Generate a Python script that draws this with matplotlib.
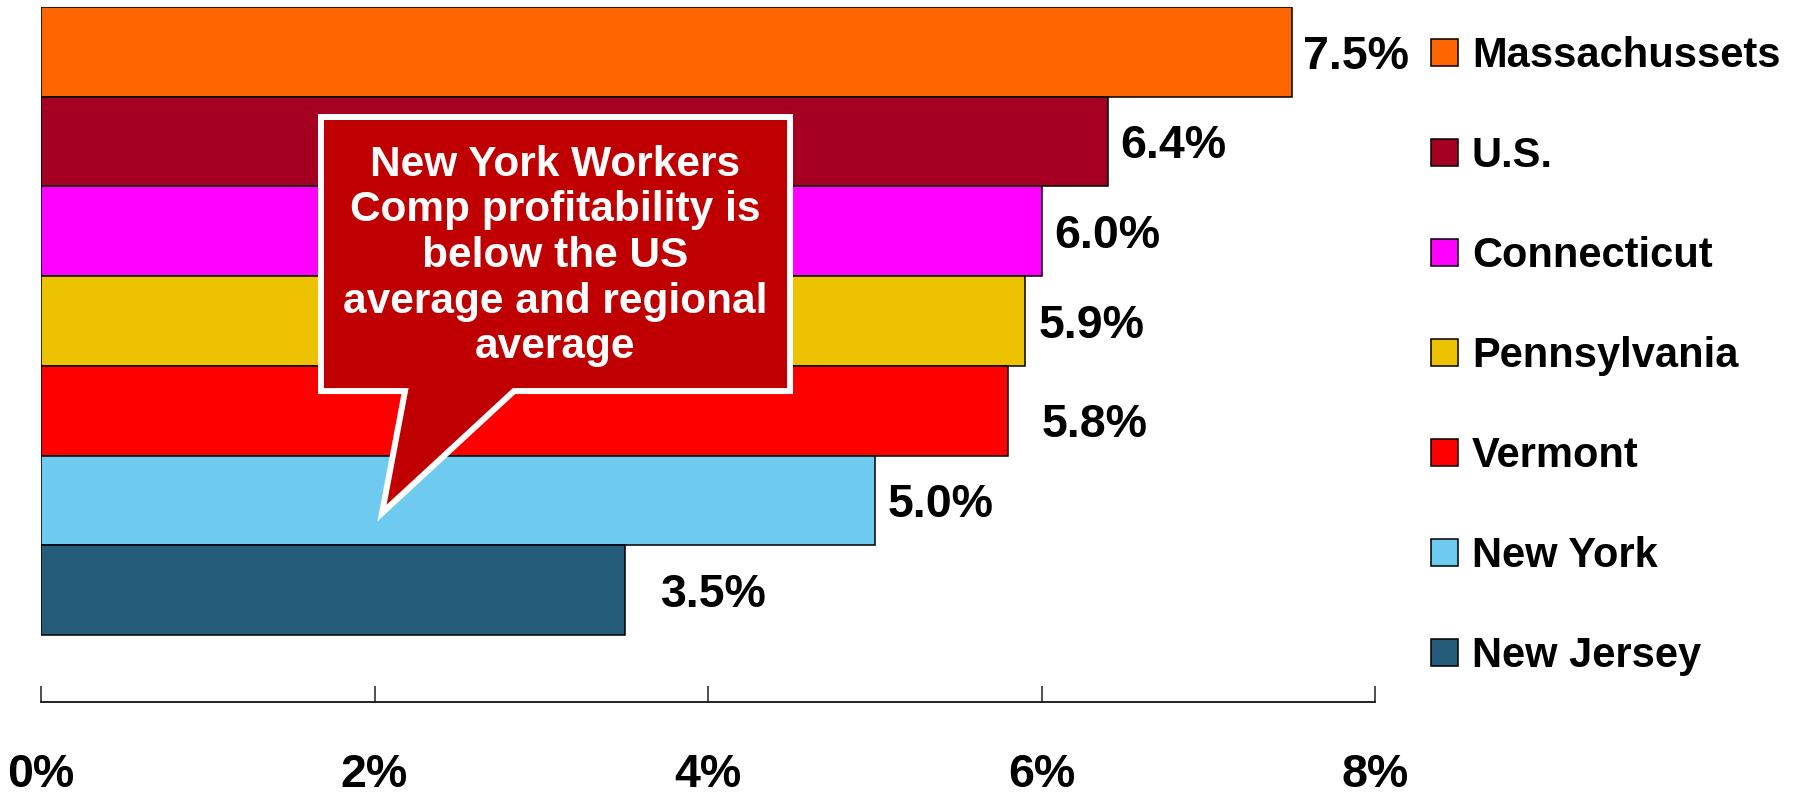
import matplotlib
matplotlib.use("Agg")
import matplotlib.pyplot as plt
from matplotlib.patches import Polygon, Rectangle

plt.rcParams['font.family'] = ['Liberation Sans', 'DejaVu Sans']
plt.rcParams['font.weight'] = 'bold'

# Workers comp profitability by state (percent)
states = ["Massachussets", "U.S.", "Connecticut", "Pennsylvania",
          "Vermont", "New York", "New Jersey"]
values = [7.5, 6.4, 6.0, 5.9, 5.8, 5.0, 3.5]
value_labels = ["7.5%", "6.4%", "6.0%", "5.9%", "5.8%", "5.0%", "3.5%"]
colors = ["#FF6600", "#A50021", "#FF00FF", "#EDC200",
          "#FF0000", "#6ECAEE", "#245C7A"]
x_ticks = [0, 2, 4, 6, 8]
x_tick_labels = ["0%", "2%", "4%", "6%", "8%"]
callout_text = ("New York Workers\nComp profitability is\nbelow the US\n"
                "average and regional\naverage")

W, H = 1802, 795
fig = plt.figure(figsize=(W / 100, H / 100), dpi=100)
ax = fig.add_axes([41 / W, 93 / H, 1334 / W, 695 / H])

ypos = list(range(len(states)))
ax.barh(ypos, values, height=1.0, color=colors, edgecolor="black",
        linewidth=1.1, zorder=2)

ax.set_xlim(0, 8)
ax.set_ylim(7.247, -0.5)
ax.set_yticks([])
ax.set_xticks(x_ticks)
ax.set_xticklabels(x_tick_labels, fontsize=33.5, fontweight="bold")
ax.tick_params(axis="x", direction="in", length=11.5, width=1.1,
               color="#202020", pad=36.5)
for side in ("left", "right", "top"):
    ax.spines[side].set_visible(False)
ax.spines["bottom"].set_linewidth(1.3)
ax.spines["bottom"].set_color("#111111")

# value labels beside the bars (offsets in points)
dx_pts = [8, 8.5, 9.5, 10, 24, 9, 26]
dy_pts = [0, 0, 0, 0, -7, 0, 0]
for i, (v, lab) in enumerate(zip(values, value_labels)):
    ax.annotate(lab, xy=(v, i), xytext=(dx_pts[i], -12 + dy_pts[i]),
                textcoords="offset points", ha="left", va="baseline",
                fontsize=33.5, fontweight="bold", color="black",
                annotation_clip=False)

# legend: coloured squares with state names
for i, (name, c) in enumerate(zip(states, colors)):
    cy = 52.5 + 100 * i
    fig.add_artist(Rectangle((1431 / W, 1 - (cy + 13.5) / H), 27 / W, 27 / H,
                             transform=fig.transFigure, facecolor=c,
                             edgecolor="black", linewidth=1.1))
    fig.text(1472 / W, 1 - (cy + 14.5) / H, name, fontsize=30,
             fontweight="bold", color="black", ha="left", va="baseline")


# speech-bubble callout (pixel positions converted to data units)
def px_to_data(px, py):
    return ((px - 41) / 1334 * 8, (py - 7) / 89.7 - 0.5)


bubble_px = [(321, 117), (790, 117), (790, 391), (514, 391),
             (382, 513), (405, 391), (321, 391)]
bubble = Polygon([px_to_data(*p) for p in bubble_px], closed=True,
                 facecolor="#C00000", edgecolor="white", linewidth=4.3,
                 joinstyle="miter", zorder=5)
ax.add_patch(bubble)
cx, cy = px_to_data(555.5, 256)
ax.text(cx, cy, callout_text, ha="center", va="center", fontsize=30.5,
        fontweight="bold", color="white", linespacing=1.18, zorder=6,
        multialignment="center")

fig.savefig("out.png", dpi=100)
